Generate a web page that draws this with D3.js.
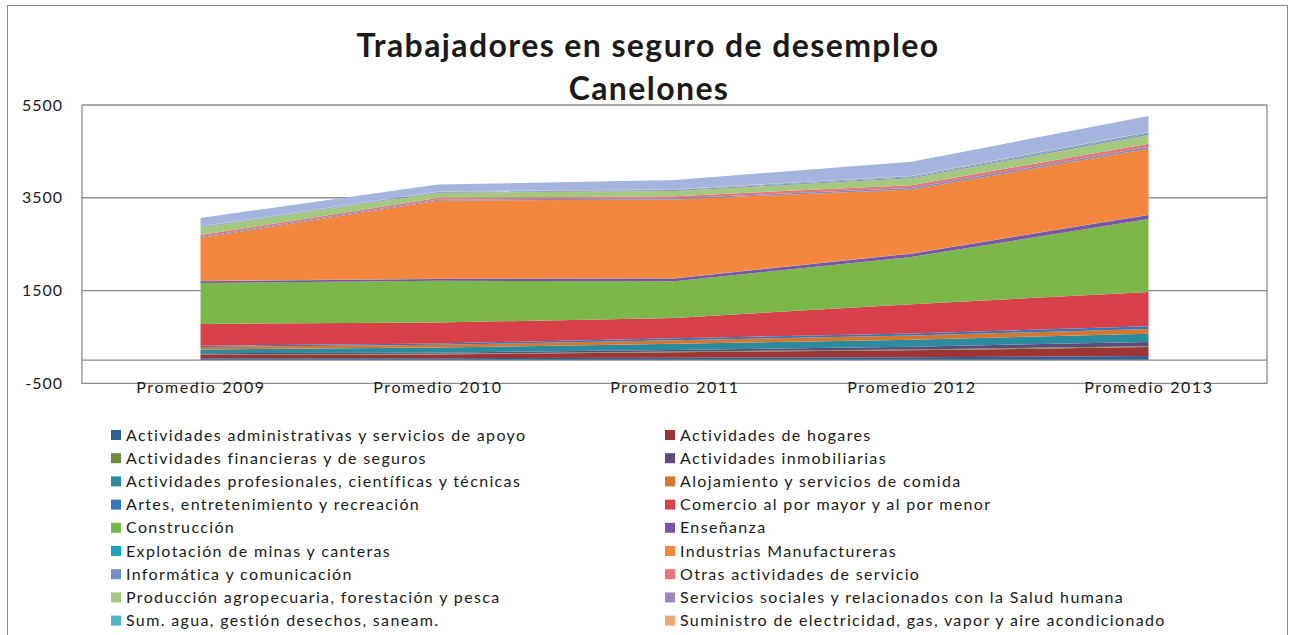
<!DOCTYPE html>
<html>
  <head>
    <meta charset="utf-8" />
    <title>Trabajadores en seguro de desempleo - Canelones</title>
    <script src="https://cdn.jsdelivr.net/npm/d3@7"></script>
    <style type="text/css">
      body { margin: 0; background: #fff; }
      text { font-family: Lato, "Open Sans", sans-serif; fill: #1a1a1a; }
    </style>
  </head>
  <body>
    <svg id="chart" width="1294" height="635"></svg>
    <script type="text/javascript">
      // categorias del eje x
      var years = ['Promedio 2009', 'Promedio 2010', 'Promedio 2011', 'Promedio 2012', 'Promedio 2013'];

      // nombres de las series (orden de apilado, de abajo hacia arriba)
      var sectors = [
        'Actividades administrativas y servicios de apoyo',
        'Actividades de hogares',
        'Actividades financieras y de seguros',
        'Actividades inmobiliarias',
        'Actividades profesionales, científicas y técnicas',
        'Alojamiento y servicios de comida',
        'Artes, entretenimiento y recreación',
        'Comercio al por mayor y al por menor',
        'Construcción',
        'Enseñanza',
        'Explotación de minas y canteras',
        'Industrias Manufactureras',
        'Informática y comunicación',
        'Otras actividades de servicio',
        'Producción agropecuaria, forestación y pesca',
        'Servicios sociales y relacionados con la Salud humana',
        'Sum. agua, gestión desechos, saneam.',
        'Suministro de electricidad, gas, vapor y aire acondicionado',
        'Transporte y almacenamiento'
      ];

      // valores por serie (2009..2013)
      var admin      = [40, 40, 50, 60, 90];
      var hogares    = [70, 80, 120, 150, 190];
      var financ     = [15, 15, 15, 20, 20];
      var inmob      = [25, 25, 35, 60, 90];
      var profes     = [80, 110, 130, 150, 180];
      var alojam     = [50, 60, 80, 90, 100];
      var artes      = [30, 30, 40, 45, 60];
      var comercio   = [470, 450, 440, 630, 740];
      var construc   = [880, 900, 790, 1020, 1570];
      var ensenanza  = [40, 40, 60, 70, 90];
      var minas      = [5, 5, 5, 5, 5];
      var industrias = [930, 1680, 1700, 1380, 1420];
      var informat   = [20, 20, 25, 30, 40];
      var otras      = [40, 40, 45, 60, 70];
      var agro       = [160, 110, 110, 150, 190];
      var salud      = [15, 15, 20, 25, 30];
      var agua       = [10, 10, 15, 20, 30];
      var electric   = [5, 5, 5, 10, 10];
      var transporte = [180, 150, 200, 300, 340];

      var series = [admin, hogares, financ, inmob, profes, alojam, artes, comercio, construc,
        ensenanza, minas, industrias, informat, otras, agro, salud, agua, electric, transporte];

      var colors = ['#2e5f96', '#9c3533', '#6f8c3a', '#5e4a7d', '#2b8ca0', '#d7762b',
        '#3478c0', '#d8414a', '#7ab648', '#7d55a6', '#1aa3c0', '#f4873d',
        '#6e8fc9', '#e8767c', '#a3c97e', '#9c87bf', '#4db6d3', '#f5a772', '#a4b4de'];

      var yTicks = [-500, 1500, 3500, 5500];

      // tabla para d3.stack
      var table = years.map(function (y, i) {
        var row = { year: y };
        sectors.forEach(function (s, k) { row[s] = series[k][i]; });
        return row;
      });

      var svg = d3.select('#chart');

      // marco exterior
      svg.append('rect')
        .attr('x', 7.5).attr('y', 5.5)
        .attr('width', 1280).attr('height', 660)
        .attr('fill', 'none').attr('stroke', '#8a8a8a');

      var left = 82, right = 1267;
      var x = d3.scalePoint().domain(years).range([left, right]).padding(0.5);
      var y = d3.scaleLinear().domain([-500, 5500]).range([383.3, 105]);

      // titulo
      svg.append('text').attr('x', 648).attr('y', 57)
        .attr('text-anchor', 'middle').attr('font-size', 32).attr('font-weight', 'bold')
        .attr('letter-spacing', '1.4px')
        .text('Trabajadores en seguro de desempleo');
      svg.append('text').attr('x', 649).attr('y', 100)
        .attr('text-anchor', 'middle').attr('font-size', 32).attr('font-weight', 'bold')
        .attr('letter-spacing', '1.4px')
        .text('Canelones');

      // lineas de division
      svg.append('g').selectAll('line')
        .data(yTicks.slice(1))
        .enter().append('line')
        .attr('x1', left).attr('x2', right)
        .attr('y1', function (d) { return y(d); })
        .attr('y2', function (d) { return y(d); })
        .attr('stroke', '#8c8c8c').attr('stroke-width', 1.3);

      // borde del area de trazado
      svg.append('path')
        .attr('d', 'M' + left + ',' + y(5500) + 'V' + y(-500) + 'H' + right + 'V' + y(5500))
        .attr('fill', 'none').attr('stroke', '#8c8c8c').attr('stroke-width', 1.3);

      // areas apiladas
      var stack = d3.stack().keys(sectors);
      var layers = stack(table);

      var area = d3.area()
        .x(function (d) { return x(d.data.year); })
        .y0(function (d) { return y(d[0]); })
        .y1(function (d) { return y(d[1]); });

      svg.append('g').selectAll('path')
        .data(layers)
        .enter().append('path')
        .attr('d', area)
        .attr('fill', function (d, i) { return colors[i]; });

      // eje de categorias en 0
      svg.append('line')
        .attr('x1', left).attr('x2', right)
        .attr('y1', y(0)).attr('y2', y(0))
        .attr('stroke', '#8c8c8c').attr('stroke-width', 1.3);

      var xAxis = svg.append('g')
        .attr('transform', 'translate(0,' + y(0) + ')')
        .call(d3.axisBottom(x).tickSize(0).tickPadding(22));
      xAxis.select('.domain').remove();
      xAxis.selectAll('text')
        .style('font-family', 'Lato, sans-serif')
        .attr('font-size', 16).attr('letter-spacing', '1.6px').attr('fill', '#1a1a1a');

      var yAxis = svg.append('g')
        .attr('transform', 'translate(' + 63 + ',0)')
        .call(d3.axisLeft(y).tickValues(yTicks).tickSize(0).tickPadding(0)
          .tickFormat(function (d) { return String(d); }));
      yAxis.select('.domain').remove();
      yAxis.selectAll('text')
        .style('font-family', 'Lato, sans-serif')
        .attr('font-size', 16).attr('letter-spacing', '1px').attr('fill', '#1a1a1a');

      // leyenda en dos columnas (la ultima fila queda fuera del recorte)
      var legend = svg.append('g').selectAll('g')
        .data(sectors.slice(0, 18))
        .enter().append('g')
        .attr('transform', function (d, i) {
          var col = i % 2, row = Math.floor(i / 2);
          return 'translate(' + (col === 0 ? 111 : 665) + ',' + (435 + row * 23.2) + ')';
        });
      legend.append('rect')
        .attr('x', 0).attr('y', -5).attr('width', 10).attr('height', 10)
        .attr('fill', function (d, i) { return colors[i]; });
      legend.append('text')
        .attr('x', 15).attr('y', 0).attr('dy', '0.35em')
        .attr('font-size', 16).attr('letter-spacing', '1.35px')
        .text(function (d) { return d; });
    </script>
  </body>
</html>
